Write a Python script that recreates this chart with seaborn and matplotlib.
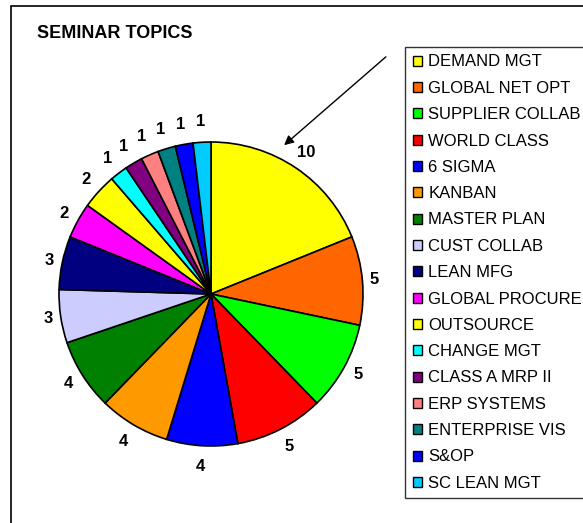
import matplotlib
matplotlib.use("Agg")
import numpy as np
import matplotlib.pyplot as plt
import matplotlib.patches as mpatches
import seaborn as sns

# seminar topics and counts
topics = ["DEMAND MGT", "GLOBAL NET OPT", "SUPPLIER COLLAB", "WORLD CLASS",
          "6 SIGMA", "KANBAN", "MASTER PLAN", "CUST COLLAB", "LEAN MFG",
          "GLOBAL PROCURE", "OUTSOURCE", "CHANGE MGT", "CLASS A MRP II",
          "ERP SYSTEMS", "ENTERPRISE VIS", "S&OP", "SC LEAN MGT"]
counts = [10, 5, 5, 5, 4, 4, 4, 3, 3, 2, 2, 1, 1, 1, 1, 1, 1]
colors = ["#FFFF00", "#FF6600", "#00FF00", "#FF0000", "#0000FF", "#FF9900",
          "#008000", "#CCCCFF", "#000080", "#FF00FF", "#FFFF00", "#00FFFF",
          "#800080", "#FF8080", "#008080", "#0000FF", "#00CCFF"]

sns.set_theme(style="white")
plt.rcParams['font.family'] = ['Liberation Sans', 'DejaVu Sans']
plt.rcParams['text.color'] = 'black'

W, H = 583, 523
fig = plt.figure(figsize=(W / 100, H / 100), dpi=100)

# outer frame (right/bottom run off the image)
fig.patches.append(mpatches.Rectangle((11 / W, -0.1), 1.2, 1 - 6 / H + 0.1,
                                      transform=fig.transFigure, fill=False,
                                      edgecolor="black", linewidth=1.2))

# pie: centre (211, 294), radius 152 px
cx, cy, r = 211, 294, 152
ax = fig.add_axes([(cx - r) / W, (H - cy - r) / H, 2 * r / W, 2 * r / H])
wedges, texts = ax.pie(counts, colors=colors, startangle=90, counterclock=False,
                       labels=[str(c) for c in counts], labeldistance=1.13,
                       wedgeprops=dict(edgecolor="black", linewidth=1.2),
                       textprops=dict(fontsize=12, fontweight="bold", color="black"))
# excel-like label placement: closer at the sides, further at top/bottom
for w, t in zip(wedges, texts):
    ang = np.deg2rad((w.theta1 + w.theta2) / 2)
    d = 1.072 + 0.065 * abs(np.sin(ang))
    t.set_position((d * np.cos(ang), d * np.sin(ang)))
    t.set_ha("center")
    t.set_va("center")
ax.set_xlim(-1, 1)
ax.set_ylim(-1, 1)
ax.axis("off")

fig.text(37 / W, 1 - 33 / H, "SEMINAR TOPICS", fontsize=13, fontweight="bold",
         color="black", ha="left", va="center")

# arrow pointing at the biggest slice
fig.add_artist(mpatches.FancyArrowPatch((388 / W, 1 - 55 / H), (282 / W, 1 - 147 / H),
                                        transform=fig.transFigure,
                                        arrowstyle="-|>", mutation_scale=14,
                                        color="black", linewidth=1))

handles = [mpatches.Patch(facecolor=c, edgecolor="black", linewidth=1) for c in colors]
leg = fig.legend(handles, topics, loc="upper left",
                 bbox_to_anchor=(405 / W, 1 - 47 / H), frameon=True,
                 fancybox=False, edgecolor="black", fontsize=12,
                 labelcolor="black",
                 handlelength=0.55, handleheight=0.55, handletextpad=0.4,
                 labelspacing=0.68, borderpad=0.45, borderaxespad=0)
leg.get_frame().set_linewidth(1)

fig.savefig("out.png", dpi=100)
